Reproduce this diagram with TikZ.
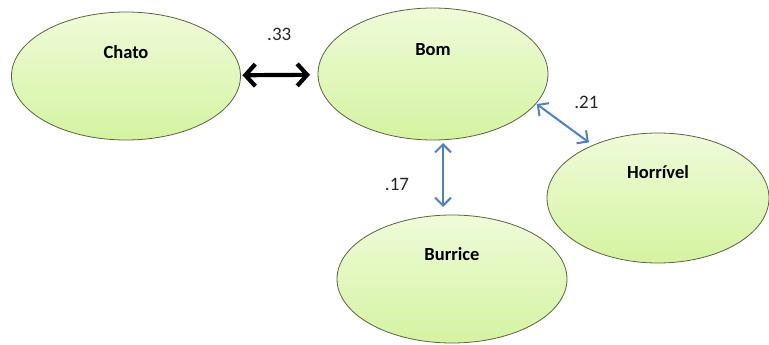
\documentclass[tikz,border=0pt]{standalone}
\usepackage{fontspec}
\setmainfont{Carlito}
\usetikzlibrary{shapes.geometric, arrows.meta}

\definecolor{leaf}{HTML}{EFFBD9}
\definecolor{leafdark}{HTML}{D5F3A1}
\definecolor{rim}{HTML}{56663E}
\definecolor{link}{HTML}{4F81BD}

\begin{document}
\begin{tikzpicture}[x=1pt, y=1pt,
					word/.style={ellipse, draw=rim, line width=0.8pt,
						top color=leaf, bottom color=leafdark,
						inner sep=0pt, outer sep=0pt},
					strong/.style={{Straight Barb[length=10pt,width=22pt]}-{Straight Barb[length=10pt,width=22pt]}, line width=4.2pt, black},
					weak/.style={{Straight Barb[length=8pt,width=16pt]}-{Straight Barb[length=8pt,width=16pt]}, line width=2pt, link},
					value/.style={font=\fontsize{19}{22}\selectfont, text=black!85}]

	\useasboundingbox (0,0) rectangle (769,-345);

	\node[word, minimum width=229pt, minimum height=128pt,
		label={[yshift=24pt, font=\fontsize{18.5}{22}\selectfont\bfseries]center:Chato}] (chato) at (126,-76) {};
	\node[word, minimum width=230pt, minimum height=132pt,
		label={[yshift=24pt, font=\fontsize{18.5}{22}\selectfont\bfseries]center:Bom}] (bom) at (433,-74) {};
	\node[word, minimum width=222pt, minimum height=130pt,
		label={[yshift=26pt, font=\fontsize{18.5}{22}\selectfont\bfseries]center:Horrível}] (horr) at (658,-198) {};
	\node[word, minimum width=230pt, minimum height=128pt,
		label={[yshift=25pt, font=\fontsize{18.5}{22}\selectfont\bfseries]center:Burrice}] (burr) at (452,-279) {};

	\draw[strong, shorten <=2pt, shorten >=8pt] (chato) -- (bom)
		node[value, midway, yshift=41pt] {.33};
	\draw[weak] ([xshift=10pt, yshift=-3pt]bom.south) -- ([xshift=-9pt, yshift=8pt]burr.north)
		node[value, midway, xshift=-46pt, yshift=-9pt] {.17};
	\draw[weak, shorten <=1pt, shorten >=5pt] (bom.-16) -- (horr.141)
		node[value, midway, xshift=22pt, yshift=22pt] {.21};
\end{tikzpicture}
\end{document}
